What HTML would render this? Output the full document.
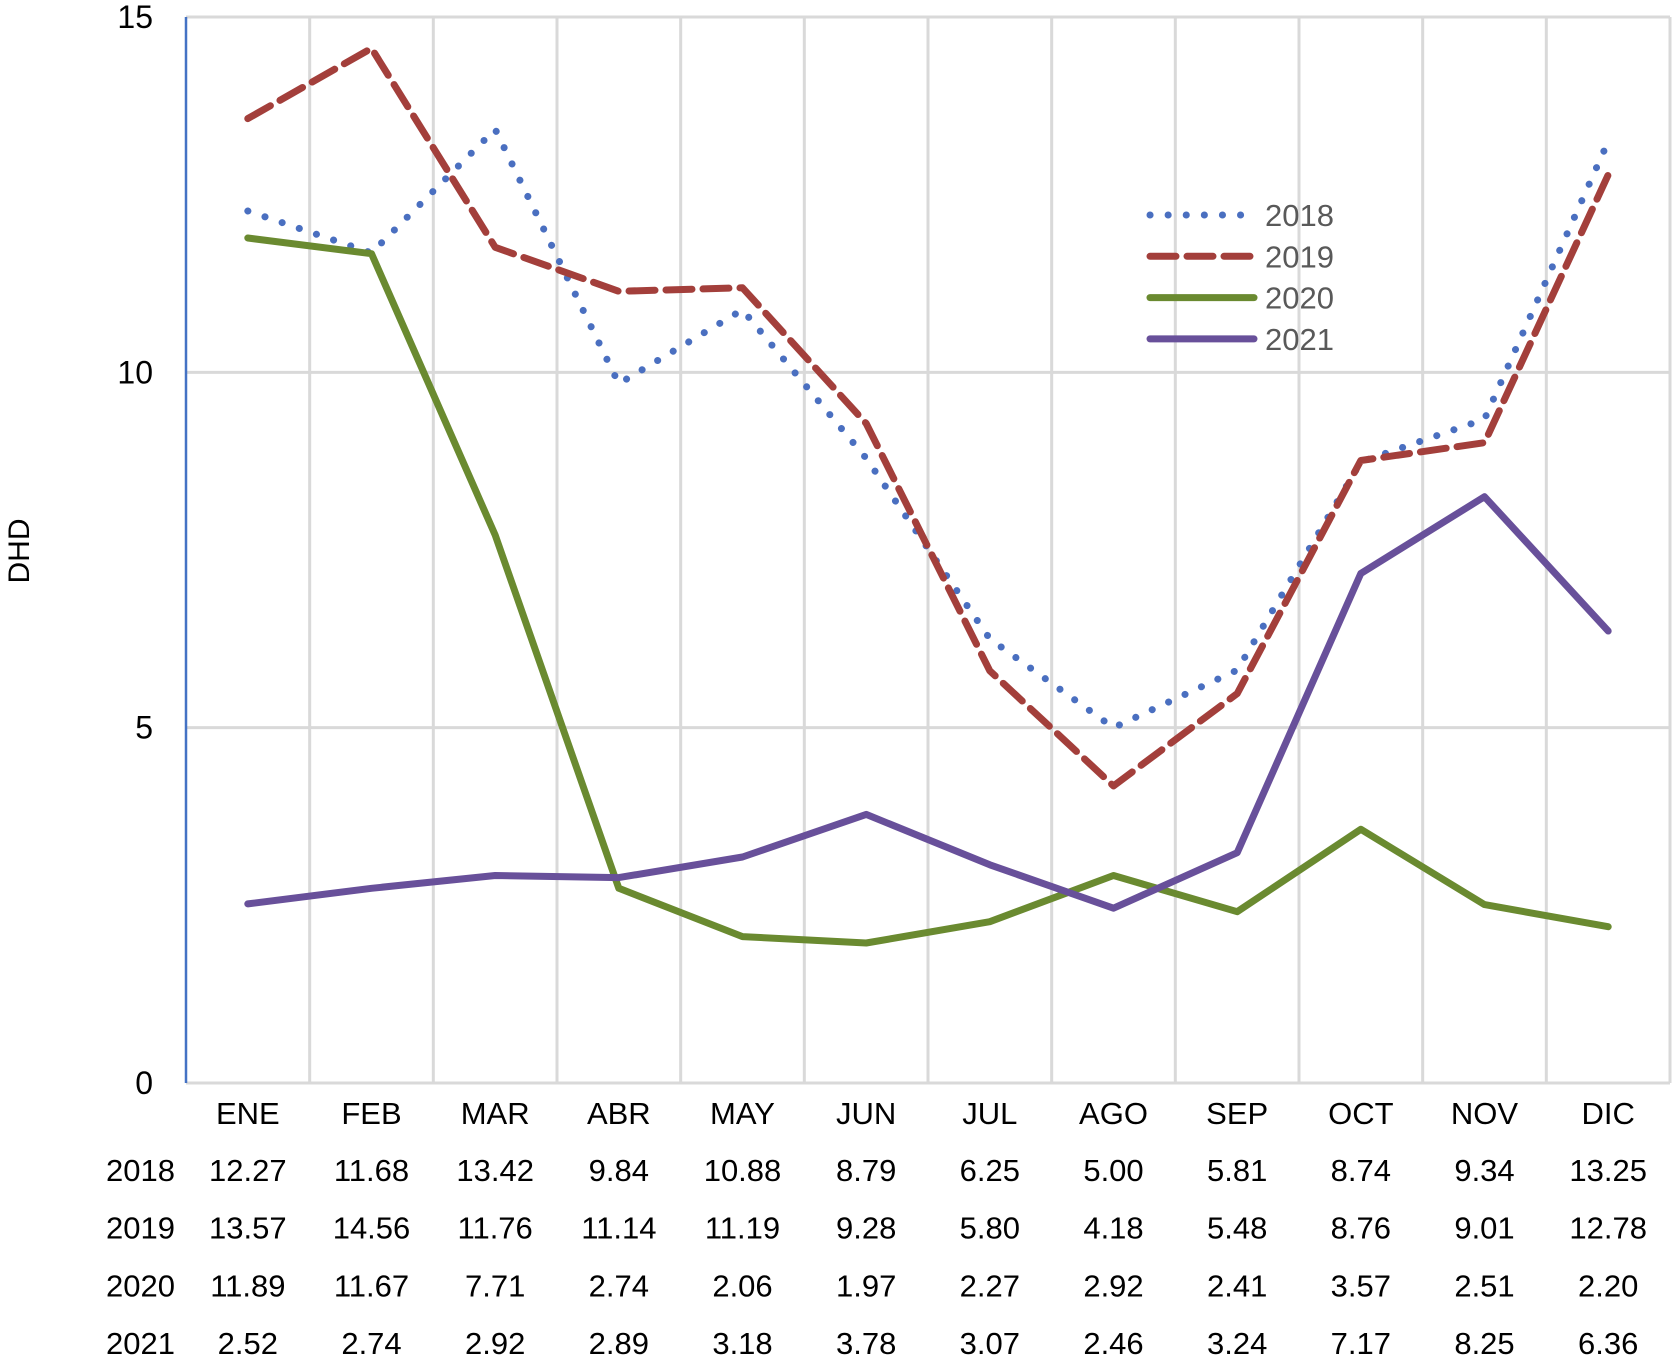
<!DOCTYPE html>
<html><head><meta charset="utf-8"><style>
html,body{margin:0;padding:0;background:#fff;}
svg{display:block;font-family:"Liberation Sans",sans-serif;}
</style></head><body>
<svg id="chart" width="1675" height="1359" viewBox="0 0 1675 1359" xmlns="http://www.w3.org/2000/svg">
<g id="grid"></g>
<g id="yaxis"></g>
<text x="0" y="0" transform="translate(29,551) rotate(-90)" text-anchor="middle" font-size="30" fill="#000">DHD</text>
<g id="series"></g>
<g id="legend"></g>
<g id="table"></g>
</svg>
<script>
const months = ["ENE","FEB","MAR","ABR","MAY","JUN","JUL","AGO","SEP","OCT","NOV","DIC"];
const years = ["2018","2019","2020","2021"];
const v2018 = [12.27,11.68,13.42,9.84,10.88,8.79,6.25,5.00,5.81,8.74,9.34,13.25];
const v2019 = [13.57,14.56,11.76,11.14,11.19,9.28,5.80,4.18,5.48,8.76,9.01,12.78];
const v2020 = [11.89,11.67,7.71,2.74,2.06,1.97,2.27,2.92,2.41,3.57,2.51,2.20];
const v2021 = [2.52,2.74,2.92,2.89,3.18,3.78,3.07,2.46,3.24,7.17,8.25,6.36];
const yTicks = [0,5,10,15];

const NS="http://www.w3.org/2000/svg";
const X0=186, X1=1670, Y0=1083, Y15=17;
const cw=(X1-X0)/months.length;
const xc=i=>X0+cw*(i+0.5);
const yv=v=>Y0-(Y0-Y15)*v/15;
function mk(tag,attrs,parent){const e=document.createElementNS(NS,tag);for(const k in attrs)e.setAttribute(k,attrs[k]);parent.appendChild(e);return e;}
const grid=document.getElementById('grid'), ya=document.getElementById('yaxis'), ser=document.getElementById('series'), leg=document.getElementById('legend'), tab=document.getElementById('table');

yTicks.forEach(t=>{
  const l=mk('line',{x1:X0,x2:X1,y1:yv(t),y2:yv(t),stroke:'#d9d9d9','stroke-width':3},grid);
  
  
  const tx=mk('text',{x:153,y:yv(t)+11,'text-anchor':'end','font-size':32,fill:'#000'},ya);
  tx.textContent=t;
  
  
});
for(let k=1;k<=months.length;k++){
  const x=X0+cw*k;
  const l=mk('line',{x1:x,x2:x,y1:Y15,y2:Y0,stroke:'#d9d9d9','stroke-width':3},grid);
  
  
}
const ax=mk('line',{x1:X0,x2:X0,y1:Y15,y2:Y0,stroke:'#4472c4','stroke-width':2.5},ya);



const styles=[
 {d:v2018,c:'#4a6fc0',da:'0.1 18',cap:'round',w:7},
 {d:v2019,c:'#a33f3b',da:'26 11',cap:'round',w:7},
 {d:v2020,c:'#6a8a30',da:'',cap:'round',w:7},
 {d:v2021,c:'#68509a',da:'',cap:'round',w:7}
];
styles.forEach((s,si)=>{
  const pts=s.d.map((v,i)=>xc(i).toFixed(1)+','+yv(v).toFixed(1)).join(' ');
  const p=mk('polyline',{points:pts,fill:'none',stroke:s.c,'stroke-width':s.w,'stroke-linecap':s.cap,'stroke-linejoin':'round'},ser);
  if(s.da)p.setAttribute('stroke-dasharray',s.da);
  
  
  const ly=215+si*41.3;
  const ll=mk('line',{x1:1150,x2:1254,y1:ly,y2:ly,stroke:s.c,'stroke-width':s.w,'stroke-linecap':s.cap},leg);
  if(s.da)ll.setAttribute('stroke-dasharray',s.da);
  
  
  const lt=mk('text',{x:1265,y:ly+11,'font-size':31,fill:'#595959'},leg);
  lt.textContent=years[si];
  
  
});

months.forEach((m,i)=>{
  const t=mk('text',{x:xc(i),y:1124,'text-anchor':'middle','font-size':31,fill:'#000'},tab);
  t.textContent=m;
  
  
});
[v2018,v2019,v2020,v2021].forEach((arr,r)=>{
  const by=1181+r*57.7;
  const yl=mk('text',{x:175,y:by,'text-anchor':'end','font-size':31,fill:'#000'},tab);
  yl.textContent=years[r];
  
  
  arr.forEach((v,i)=>{
    const t=mk('text',{x:xc(i),y:by,'text-anchor':'middle','font-size':31,fill:'#000'},tab);
    t.textContent=v.toFixed(2);
    
    
  });
});
</script>
</body></html>
